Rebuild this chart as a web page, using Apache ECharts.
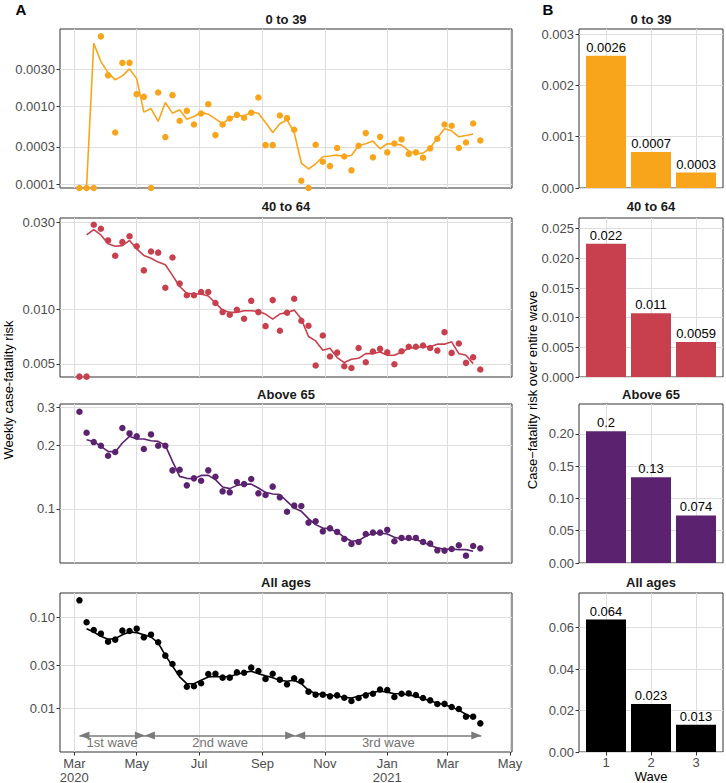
<!DOCTYPE html>
<html>
<head>
<meta charset="UTF-8">
<title>Case-fatality risk</title>
<script src="https://cdn.jsdelivr.net/npm/echarts@6/dist/echarts.min.js"></script>
<style>
html, body { margin: 0; padding: 0; background: #fff; }
#main { width: 726px; height: 783px; }
</style>
</head>
<body>
<div id="main"></div>
<script>
// ---- data ----
var groups = ['0 to 39', '40 to 64', 'Above 65', 'All ages'];
var colors = ['#F9A51B', '#C8404E', '#5B236F', '#000000'];

// weekly case-fatality risk, one value per week from 6 Mar 2020
var weekly039 = [0.000089, 0.000089, 0.000089, 0.00788, 0.00249, 0.000459, 0.00360, 0.00360, 0.001426, 0.001318,
  0.000089, 0.001497, 0.000401, 0.001384, 0.000649, 0.000871, 0.000582, 0.000805, 0.001061, 0.000425,
  0.000582, 0.000695, 0.000774, 0.000709, 0.000822, 0.001291, 0.000316, 0.000316, 0.000759, 0.000702,
  0.000498, 0.000110, 0.000089, 0.000319, 0.000193, 0.000170, 0.000290, 0.000226, 0.000150, 0.000310,
  0.000451, 0.000220, 0.000404, 0.000255, 0.000332, 0.000374, 0.000243, 0.000255, 0.000218, 0.000287,
  0.000381, 0.000582, 0.000560, 0.000290, 0.000342, 0.000600, 0.000363];
var weekly4064 = [0.00426, 0.00426, 0.0290, 0.0276, 0.0238, 0.0196, 0.0233, 0.0251, 0.0221, 0.0163,
  0.0207, 0.0204, 0.0131, 0.0192, 0.0138, 0.0119, 0.0119, 0.0124, 0.0124, 0.0108,
  0.00963, 0.00931, 0.00992, 0.00885, 0.0111, 0.00963, 0.00806, 0.0112, 0.00760, 0.00954,
  0.0114, 0.00863, 0.00810, 0.00490, 0.00716, 0.00549, 0.00577, 0.00486, 0.00475, 0.00612,
  0.00511, 0.00585, 0.00605, 0.00580, 0.00498, 0.00587, 0.00621, 0.00621, 0.00631, 0.00612,
  0.00592, 0.00747, 0.00575, 0.00647, 0.00507, 0.00544, 0.00466];
var weekly65 = [0.287, 0.2286, 0.2065, 0.1985, 0.178, 0.1854, 0.2404, 0.2268, 0.2197, 0.1915,
  0.2244, 0.1985, 0.1985, 0.152, 0.153, 0.1292, 0.1394, 0.1359, 0.152, 0.1419,
  0.1211, 0.1198, 0.134, 0.131, 0.1384, 0.1185, 0.1164, 0.1274, 0.1135, 0.0971,
  0.1037, 0.1033, 0.0863, 0.0875, 0.0785, 0.0811, 0.0780, 0.0723, 0.0685, 0.0700,
  0.0763, 0.0774, 0.0774, 0.0797, 0.0705, 0.0731, 0.0731, 0.0731, 0.0700, 0.0687,
  0.0639, 0.0637, 0.0648, 0.0675, 0.0603, 0.0670, 0.0653];
var weeklyAll = [0.1552, 0.0889, 0.0731, 0.0666, 0.0544, 0.0572, 0.0719, 0.0713, 0.0756, 0.0607,
  0.0649, 0.0535, 0.0381, 0.0308, 0.0247, 0.0173, 0.0175, 0.0189, 0.0239, 0.0241,
  0.0218, 0.0218, 0.0249, 0.0247, 0.0281, 0.0258, 0.0211, 0.0241, 0.0207, 0.0184,
  0.0214, 0.0199, 0.01527, 0.01415, 0.01415, 0.01356, 0.0139, 0.0131, 0.01205, 0.0130,
  0.0139, 0.0145, 0.0161, 0.0159, 0.01334, 0.0145, 0.0146, 0.01403, 0.0130, 0.01225,
  0.01116, 0.0112, 0.01034, 0.00983, 0.00809, 0.00809, 0.00683];

// rolling average line (no value for first and last week)
var rolling039 = [null, 0.0000933, 0.00643, 0.00374, 0.00270, 0.00218, 0.00245, 0.00301, 0.00226, 0.000838,
  0.000933, 0.000636, 0.001114, 0.000813, 0.000897, 0.000681, 0.000737, 0.000838, 0.000789, 0.000688,
  0.000594, 0.000702, 0.000767, 0.000744, 0.000838, 0.000813, 0.000618, 0.000459, 0.000594, 0.000668,
  0.000459, 0.000186, 0.000156, 0.000182, 0.000224, 0.000229, 0.000235, 0.000226, 0.000233, 0.000313,
  0.000329, 0.000356, 0.000284, 0.000329, 0.000326, 0.000316, 0.000267, 0.000243, 0.000250, 0.000290,
  0.000389, 0.000512, 0.000483, 0.000404, 0.000421, 0.000438];
var rolling4064 = [null, 0.0255, 0.0273, 0.0255, 0.0228, 0.0221, 0.0223, 0.0238, 0.0214, 0.0197,
  0.0190, 0.0181, 0.0175, 0.0153, 0.0133, 0.0122, 0.0121, 0.0121, 0.0118, 0.0108,
  0.00987, 0.00959, 0.00959, 0.00979, 0.00979, 0.00971, 0.00939, 0.00881, 0.00939, 0.00959,
  0.00987, 0.00881, 0.00707, 0.00669, 0.00595, 0.00610, 0.00542, 0.00509, 0.00531, 0.00537,
  0.00570, 0.00570, 0.00582, 0.00558, 0.00558, 0.00582, 0.00610, 0.00615, 0.00621, 0.00621,
  0.00642, 0.00642, 0.00661, 0.00570, 0.00558, 0.00502];
var rolling65 = [null, 0.2118, 0.208, 0.197, 0.1867, 0.1854, 0.2044, 0.2197, 0.2134, 0.2134,
  0.2096, 0.208, 0.1992, 0.1675, 0.1424, 0.1394, 0.139, 0.1439, 0.1439, 0.1374,
  0.1269, 0.1247, 0.1292, 0.131, 0.131, 0.1255, 0.1198, 0.1177, 0.117, 0.1087,
  0.1011, 0.0975, 0.0901, 0.0844, 0.0814, 0.0806, 0.0780, 0.0736, 0.0705, 0.0710,
  0.0744, 0.0770, 0.0771, 0.0763, 0.0736, 0.0723, 0.0723, 0.0718, 0.0697, 0.0675,
  0.0656, 0.0646, 0.0648, 0.0644, 0.0644, 0.0632];
var rollingAll = [null, 0.0756, 0.0695, 0.0622, 0.0577, 0.0587, 0.0649, 0.0695, 0.0684, 0.0649,
  0.0612, 0.0526, 0.0384, 0.0293, 0.0222, 0.0187, 0.0187, 0.0204, 0.0222, 0.0225,
  0.0222, 0.0225, 0.0237, 0.0249, 0.0256, 0.0241, 0.0229, 0.0218, 0.0204, 0.0199,
  0.0204, 0.0187, 0.0158, 0.0145, 0.01427, 0.0139, 0.01368, 0.01322, 0.0130, 0.01356,
  0.01427, 0.0150, 0.01553, 0.0151, 0.0145, 0.0145, 0.01403, 0.01356, 0.0128, 0.01205,
  0.01145, 0.01097, 0.01034, 0.00950, 0.00859, 0.00789];

// case-fatality risk over the entire wave
var waveIds = [1, 2, 3];
var wave039 = [0.00258, 0.0007, 0.0003];
var wave4064 = [0.02245, 0.01075, 0.00588];
var wave65 = [0.2041, 0.1328, 0.0738];
var waveAll = [0.0639, 0.0232, 0.0132];

// wave periods (arrows in the All ages panel)
var waveNames = ['1st wave', '2nd wave', '3rd wave'];
var waveStart = ['2020-03-06', '2020-05-09', '2020-10-03'];
var waveEnd = ['2020-05-09', '2020-10-03', '2021-04-03'];

// axis ticks
var monthTicks = ['2020-03-01', '2020-05-01', '2020-07-01', '2020-09-01', '2020-11-01', '2021-01-01', '2021-03-01', '2021-05-01'];
var monthLabels = ['Mar\n2020', 'May', 'Jul', 'Sep', 'Nov', 'Jan\n2021', 'Mar', 'May'];
var logTicks = [[0.0001, 0.0003, 0.001, 0.003], [0.005, 0.01, 0.03], [0.1, 0.2, 0.3], [0.01, 0.03, 0.1]];
var barTicks = [[0, 0.001, 0.002, 0.003], [0, 0.005, 0.01, 0.015, 0.02, 0.025], [0, 0.05, 0.1, 0.15, 0.2], [0, 0.02, 0.04, 0.06]];

// ---- layout ----
var rowTop = [29, 218, 404, 593];
var rowH = 159;
var logMin = [0.0000889, 0.00424, 0.0557, 0.0033];
var logMax = [0.0098, 0.0316, 0.312, 0.187];
var logDigits = [4, 3, 1, 2];
var barMax = [0.0031, 0.0268, 0.2465, 0.0767];
var barDigits = [3, 3, 2, 2];

var font = 'Liberation Sans, Arial, sans-serif';
var tickGrey = '#4d4d4d';
var gridGrey = '#dedede';

function day(s) {
  var p = s.split('-');
  return new Date(+p[0], +p[1] - 1, +p[2]).getTime();
}
var weekDates = [];
for (var w = 0; w < weekly039.length; w++) {
  weekDates.push(new Date(2020, 2, 6 + 7 * w).getTime());
}
function pairs(vals) {
  var out = [];
  vals.forEach(function (v, i) {
    if (v != null) out.push([weekDates[i], v]);
  });
  return out;
}
var tickTimes = monthTicks.map(day);
function monthLabel(v) {
  for (var i = 0; i < tickTimes.length; i++) {
    if (Math.abs(tickTimes[i] - v) < 3600000) return monthLabels[i];
  }
  return '';
}

var weekly = [weekly039, weekly4064, weekly65, weeklyAll];
var rolling = [rolling039, rolling4064, rolling65, rollingAll];
var waves = [wave039, wave4064, wave65, waveAll];

var grids = [], xAxes = [], yAxes = [], series = [];

for (var k = 0; k < 4; k++) {
  grids.push({ left: 60, top: rowTop[k], width: 452, height: rowH, show: true,
    borderColor: '#333', borderWidth: 1, backgroundColor: 'transparent', outerBoundsMode: 'none' });
  grids.push({ left: 579, top: rowTop[k], width: 144, height: rowH, show: true,
    borderColor: '#333', borderWidth: 1, backgroundColor: 'transparent', outerBoundsMode: 'none' });
}

// left panels: date x axis (ms) + log y axis
for (var k = 0; k < 4; k++) {
  var last = k === 3;
  xAxes[k] = {
    type: 'value', gridIndex: 2 * k, scale: true,
    min: day('2020-02-16'), max: day('2021-05-03'),
    axisLine: { show: false },
    axisTick: { show: last, length: 3.5, lineStyle: { color: '#333' }, customValues: tickTimes },
    axisLabel: { show: last, customValues: tickTimes, margin: 4, color: tickGrey, fontSize: 13,
      fontFamily: font, lineHeight: 14, formatter: monthLabel },
    splitLine: { show: true, lineStyle: { color: gridGrey, width: 1 } }
  };
  (function (k) {
    yAxes[k] = {
      type: 'log', logBase: 10, gridIndex: 2 * k,
      min: logMin[k], max: logMax[k],
      axisLine: { show: false },
      axisTick: { show: true, length: 3.5, lineStyle: { color: '#333' }, customValues: logTicks[k] },
      axisLabel: { customValues: logTicks[k], margin: 5, color: tickGrey, fontSize: 13, fontFamily: font,
        formatter: function (v) { return (+v).toFixed(logDigits[k]); } },
      splitLine: { show: true, lineStyle: { color: gridGrey, width: 1 } },
      minorSplitLine: { show: false }
    };
  })(k);
}

// right panels: wave x axis + linear y axis
for (var k = 0; k < 4; k++) {
  var last = k === 3;
  xAxes[4 + k] = {
    type: 'value', gridIndex: 2 * k + 1, min: 0.4, max: 3.6,
    name: last ? 'Wave' : '', nameLocation: 'middle', nameGap: 16,
    nameTextStyle: { color: '#000', fontSize: 13, fontFamily: font, lineHeight: 13 },
    axisLine: { show: false },
    axisTick: { show: last, length: 3.5, lineStyle: { color: '#333' }, customValues: waveIds },
    axisLabel: { show: last, customValues: waveIds, margin: 4, color: tickGrey, fontSize: 13, fontFamily: font },
    splitLine: { show: true, lineStyle: { color: gridGrey, width: 1 } }
  };
  (function (k) {
    yAxes[4 + k] = {
      type: 'value', gridIndex: 2 * k + 1, min: 0, max: barMax[k],
      axisLine: { show: false },
      axisTick: { show: true, length: 3.5, lineStyle: { color: '#333' }, customValues: barTicks[k] },
      axisLabel: { customValues: barTicks[k], margin: 5, color: tickGrey, fontSize: 13, fontFamily: font,
        formatter: function (v) { return (+v).toFixed(barDigits[k]); } },
      splitLine: { show: true, lineStyle: { color: gridGrey, width: 1 } }
    };
  })(k);
}

// arrow head with its tip at the symbol centre
var arrowHead = 'path://M5,-12L5,-12M5,0L10,12L0,12Z';

for (var k = 0; k < 4; k++) {
  var pts = {
    type: 'scatter', xAxisIndex: k, yAxisIndex: k, data: pairs(weekly[k]),
    symbolSize: 6.5, clip: false, z: 2, silent: true,
    itemStyle: { color: colors[k], opacity: 1, borderWidth: 0 }
  };
  if (k === 3) {
    pts.markLine = {
      silent: true, animation: false,
      symbol: [arrowHead, arrowHead], symbolSize: [8, 20],
      lineStyle: { color: '#7a7a7a', width: 1.5, type: 'solid' },
      label: { show: true, position: 'insideMiddleBottom', formatter: '{b}', distance: 1,
        color: '#737373', fontSize: 13, fontFamily: font },
      emphasis: { disabled: true },
      data: waveNames.map(function (n, i) {
        return [{ name: n, coord: [day(waveStart[i]), 0.00503] }, { coord: [day(waveEnd[i]), 0.00503] }];
      })
    };
  }
  series.push(pts);
  series.push({
    type: 'line', xAxisIndex: k, yAxisIndex: k, data: pairs(rolling[k]),
    showSymbol: false, symbol: 'none', clip: false, z: 3, silent: true,
    lineStyle: { color: colors[k], width: 1.6 }
  });
  series.push({
    type: 'bar', xAxisIndex: 4 + k, yAxisIndex: 4 + k, silent: true,
    data: waves[k].map(function (v, i) { return [waveIds[i], v]; }),
    barWidth: 40,
    itemStyle: { color: colors[k] },
    label: { show: true, position: 'top', distance: 2, color: '#000', fontSize: 13, fontFamily: font,
      formatter: function (p) { return String(Number(p.value[1].toPrecision(2))); } }
  });
}

// titles and panel letters
var texts = [];
function addText(str, x, y, opt) {
  opt = opt || {};
  texts.push({
    type: 'text', x: x, y: y, rotation: opt.rotation || 0, silent: true,
    style: { text: str, fill: opt.color || '#1a1a1a', font: opt.font || ('bold 13px ' + font),
      align: 'center', verticalAlign: 'middle' }
  });
}
var titleY = [19, 206, 394.5, 582.5];
for (var k = 0; k < 4; k++) {
  addText(groups[k], 286, titleY[k]);
  addText(groups[k], 651, titleY[k]);
}
addText('A', 21, 9, { font: 'bold 15px ' + font, color: '#000' });
addText('B', 548, 9, { font: 'bold 15px ' + font, color: '#000' });
addText('Weekly case-fatality risk', 8, 390, { rotation: Math.PI / 2, font: '13px ' + font, color: '#000' });
addText('Case\u2212fatality risk over entire wave', 532, 390, { rotation: Math.PI / 2, font: '13px ' + font, color: '#000' });

var chart = echarts.init(document.getElementById('main'), null, { renderer: 'svg' });
chart.setOption({
  animation: false,
  backgroundColor: '#fff',
  textStyle: { fontFamily: font },
  grid: grids,
  xAxis: xAxes,
  yAxis: yAxes,
  series: series,
  graphic: texts
});
</script>
</body>
</html>
